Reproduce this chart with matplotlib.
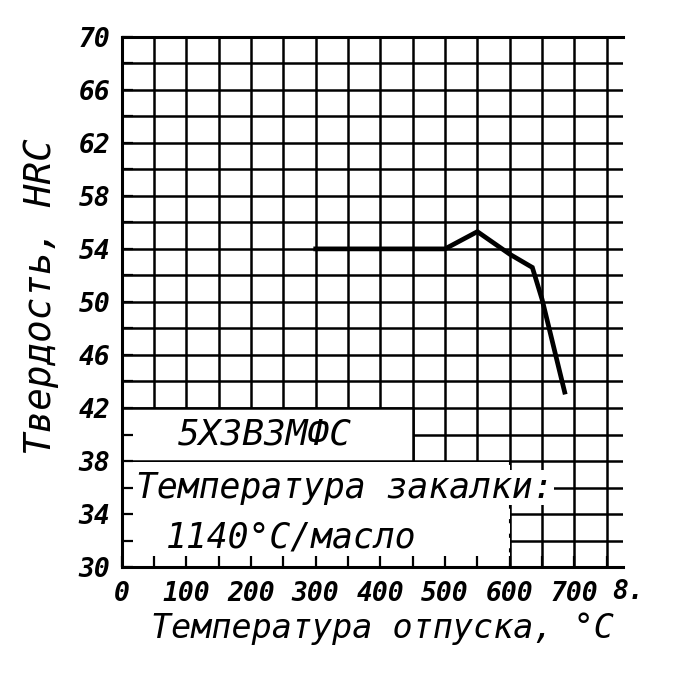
import matplotlib
matplotlib.use("Agg")
import matplotlib.pyplot as plt
from matplotlib.patches import Rectangle
import numpy as np

# hardness of steel 5Х3В3МФС vs tempering temperature
temper_t = [300, 500, 550, 600, 635, 650, 685]
hardness = [54.0, 54.0, 55.3, 53.6, 52.6, 50.2, 43.2]

x_labels = [0, 100, 200, 300, 400, 500, 600, 700]
y_labels = [30, 34, 38, 42, 46, 50, 54, 58, 62, 66, 70]

steel = "5Х3В3МФС"
quench_1 = "Температура закалки:"
quench_2 = "1140°С/масло"

# even, stencil-like lettering of the drawing
plt.rcParams['font.family'] = ['DejaVu Sans Mono', 'DejaVu Sans']

fig = plt.figure(figsize=(6.8, 6.8), dpi=100)
pos = [0.179, 0.166, 0.737, 0.780]
ax = fig.add_axes(pos)

ax.set_xlim(0, 775)
ax.set_ylim(30, 70)

tick_font = dict(fontsize=19, style='italic', weight='bold')
ax.set_xticks(x_labels)
ax.set_xticks(np.arange(0, 751, 50), minor=True)
ax.set_yticks(y_labels)
ax.set_yticks(np.arange(30, 71, 2), minor=True)
ax.set_xticklabels([str(v) for v in x_labels], **tick_font)
ax.set_yticklabels([str(v) for v in y_labels], **tick_font)
ax.tick_params(which='both', length=0)
ax.tick_params(axis='x', pad=10)
ax.tick_params(axis='y', pad=8)
# the "800" label is cut off at the edge of the scan
ax.text(758, -0.022, "8.", transform=ax.get_xaxis_transform(), ha='left', va='top',
        clip_on=False, **tick_font)

ax.set_axisbelow(True)
ax.grid(True, which='both', color='black', linewidth=1.8)
for s in ax.spines.values():
    s.set_linewidth(2.2)
ax.spines['right'].set_visible(False)

# label boxes on top of the grid
ax.add_patch(Rectangle((0, 38), 450, 4, facecolor='white', edgecolor='black', linewidth=1.8, zorder=1))
ax.add_patch(Rectangle((0, 30), 600, 7.9, facecolor='white', edgecolor='none', zorder=1))
ax.plot([600, 600], [30, 38], color='black', linewidth=1.5, linestyle=(0, (2, 5)), zorder=1.5)

box_font = dict(style='italic', zorder=3)
ax.text(222, 40, steel, ha='center', va='center', fontsize=26, **box_font)
ax.text(22, 36, quench_1, ha='left', va='center', fontsize=25,
        bbox=dict(facecolor='white', edgecolor='none', pad=0.5), **box_font)
ax.text(262, 32.2, quench_2, ha='center', va='center', fontsize=25, **box_font)

ax.plot(temper_t, hardness, color='black', linewidth=3.4, solid_joinstyle='miter', zorder=4)

ax.set_xlabel("Температура отпуска, °С", fontsize=24, style='italic')
ax.set_ylabel("Твердость, HRC", fontsize=27, style='italic')
ax.xaxis.set_label_coords(0.52, -0.085)
ax.yaxis.set_label_coords(-0.125, 0.51)

# overlay axes: inward ticks drawn above the white boxes
ax2 = fig.add_axes(pos, sharex=ax, sharey=ax)
ax2.patch.set_visible(False)
ax2.set_xticks(np.arange(0, 751, 50))
ax2.set_yticks(np.arange(30, 71, 2))
ax2.tick_params(direction='in', length=8, width=1.6, labelbottom=False, labelleft=False)
for s in ax2.spines.values():
    s.set_visible(False)

fig.savefig("out.png", dpi=100, facecolor='white')
